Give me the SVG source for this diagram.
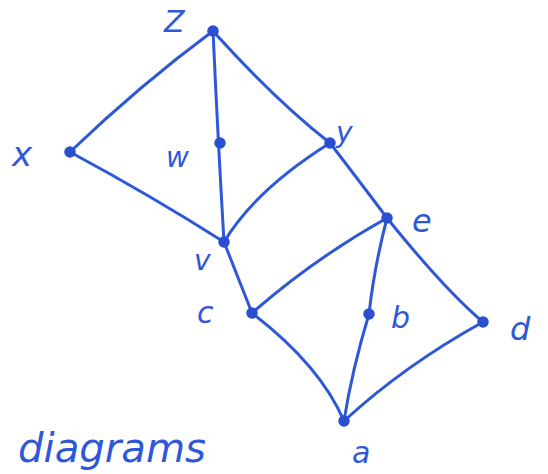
<svg xmlns="http://www.w3.org/2000/svg" width="548" height="474" viewBox="0 0 548 474">
<style>
.e{fill:none;stroke:#2f58d8;stroke-width:3;stroke-linecap:round}
.n{fill:#2a4fcf;stroke:#2a4fcf;stroke-width:1.5}
.t{fill:#2f58d8;font-family:"DejaVu Sans",sans-serif;font-style:italic}
</style>
<rect width="548" height="474" fill="#fff"/>
<g id="edges">
<path class="e" d="M213 31 Q140 85 70 152"/>
<path class="e" d="M213 31 Q218 140 224 242"/>
<path class="e" d="M213 31 Q275 100 330 143"/>
<path class="e" d="M70 152 Q150 195 224 242"/>
<path class="e" d="M330 143 Q255 190 224 242"/>
<path class="e" d="M330 143 Q360 182 387 218"/>
<path class="e" d="M224 242 L252 313"/>
<path class="e" d="M387 218 Q315 258 252 313"/>
<path class="e" d="M387 218 Q374 268 369 314"/>
<path class="e" d="M369 314 Q352 370 344 421"/>
<path class="e" d="M387 218 Q445 290 483 322"/>
<path class="e" d="M483 322 Q405 365 344 421"/>
<path class="e" d="M252 313 Q320 365 344 421"/>
</g>
<g id="z"><circle class="n" cx="213" cy="31" r="5"/><text class="t" x="164" y="32" font-size="30">Z</text></g>
<g id="x"><circle class="n" cx="70" cy="152" r="5"/><text class="t" x="12" y="166" font-size="34">x</text></g>
<g id="w"><circle class="n" cx="220" cy="143" r="5"/><text class="t" x="166" y="167" font-size="28">w</text></g>
<g id="y"><circle class="n" cx="330" cy="143" r="5"/><text class="t" x="336" y="142" font-size="28">y</text></g>
<g id="v"><circle class="n" cx="224" cy="242" r="5"/><text class="t" x="194" y="270" font-size="28">v</text></g>
<g id="e"><circle class="n" cx="387" cy="218" r="5"/><text class="t" x="412" y="232" font-size="32">e</text></g>
<g id="c"><circle class="n" cx="252" cy="313" r="5"/><text class="t" x="197" y="323" font-size="30">c</text></g>
<g id="b"><circle class="n" cx="369" cy="314" r="5"/><text class="t" x="391" y="328" font-size="30">b</text></g>
<g id="d"><circle class="n" cx="483" cy="322" r="5"/><text class="t" x="510" y="340" font-size="32">d</text></g>
<g id="a"><circle class="n" cx="344" cy="421" r="5"/><text class="t" x="352" y="463" font-size="30">a</text></g>
<text class="t" x="18" y="462" font-size="40" textLength="188" lengthAdjust="spacingAndGlyphs">diagrams</text>
</svg>
